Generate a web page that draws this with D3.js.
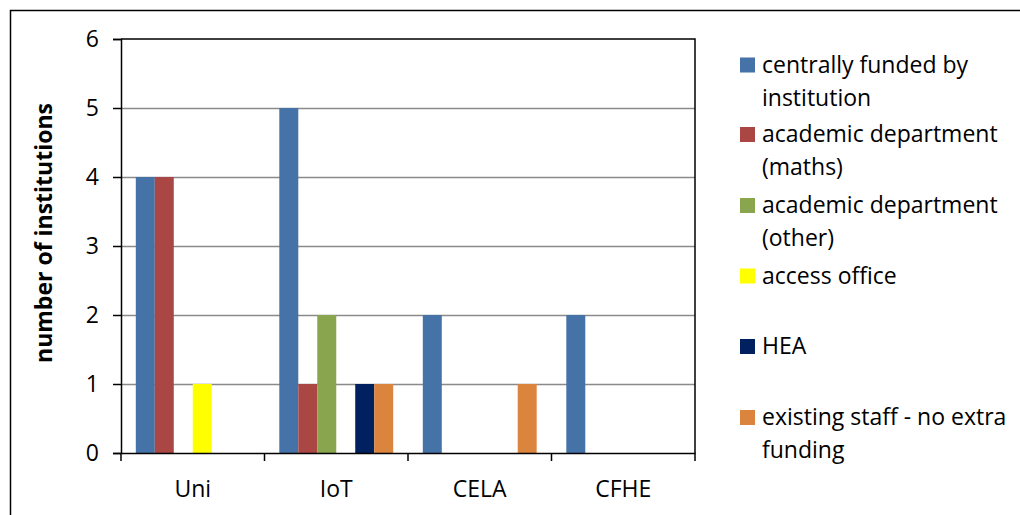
<!DOCTYPE html>
<html>
<head>
<meta charset="utf-8">
<script src="https://cdn.jsdelivr.net/npm/d3@7"></script>
<style>
  html, body { margin: 0; padding: 0; background: #fff; }
  svg { display: block; }
  text { font-family: "Open Sans", "Noto Sans", sans-serif; fill: #000; }
</style>
</head>
<body>
<svg id="chart" width="1020" height="515"></svg>
<script>
const categories = ["Uni", "IoT", "CELA", "CFHE"];
const seriesNames = [
  "centrally funded by institution",
  "academic department (maths)",
  "academic department (other)",
  "access office",
  "HEA",
  "existing staff - no extra funding"
];
const legendLines = [
  ["centrally funded by", "institution"],
  ["academic department", "(maths)"],
  ["academic department", "(other)"],
  ["access office"],
  ["HEA"],
  ["existing staff - no extra", "funding"]
];
const seriesColors = ["#4572A7", "#AA4643", "#89A54E", "#FFFF00", "#002060", "#DB843D"];
const centrallyFunded = [4, 5, 2, 2];
const academicMaths   = [4, 1, 0, 0];
const academicOther   = [0, 2, 0, 0];
const accessOffice    = [1, 0, 0, 0];
const hea             = [0, 1, 0, 0];
const existingStaff   = [0, 1, 1, 0];
const seriesValues = [centrallyFunded, academicMaths, academicOther, accessOffice, hea, existingStaff];
const yTicks = [0, 1, 2, 3, 4, 5, 6];
const yLabel = "number of institutions";

(function () {
const svg = d3.select("#chart");
const pLeft = 121, pRight = 695, pTop = 39, pBottom = 453;

// outer frame
svg.append("path")
  .attr("d", "M10.5,515 V10.5 H1020")
  .attr("fill", "none").attr("stroke", "#000").attr("stroke-width", 1.5);

const x = d3.scaleBand().domain(categories).range([pLeft, pRight]).padding(0);
const xs = d3.scaleBand().domain(d3.range(seriesNames.length))
  .range([0, x.bandwidth()]).paddingInner(0).paddingOuter(0.78);
const y = d3.scaleLinear().domain([0, 6]).range([pBottom, pTop]);

// gridlines
svg.append("g").selectAll("line").data(yTicks.filter(t => t > 0 && t < 6)).join("line")
  .attr("x1", pLeft).attr("x2", pRight)
  .attr("y1", d => Math.round(y(d)) + 0.5).attr("y2", d => Math.round(y(d)) + 0.5)
  .attr("stroke", "#8a8a8a").attr("stroke-width", 1.5);

// plot border top & right
svg.append("path")
  .attr("d", `M${pLeft},${y(6)} H${pRight} V${pBottom}`)
  .attr("fill", "none").attr("stroke", "#000").attr("stroke-width", 1.5);

// bars
const flat = [];
seriesValues.forEach((vals, si) => vals.forEach((v, ci) => {
  if (v > 0) flat.push({ si, ci, v });
}));
svg.append("g").selectAll("rect").data(flat).join("rect")
  .attr("x", d => x(categories[d.ci]) + xs(d.si))
  .attr("width", xs.bandwidth())
  .attr("y", d => y(d.v))
  .attr("height", d => y(0) - y(d.v))
  .attr("fill", d => seriesColors[d.si]);

// y axis
const yAxis = d3.axisLeft(y).tickValues(yTicks).tickSize(8).tickPadding(14).tickFormat(d3.format("d"));
const gy = svg.append("g").attr("transform", `translate(${pLeft},0)`).call(yAxis);
gy.select(".domain").attr("stroke", "#000").attr("stroke-width", 1.5);
gy.selectAll(".tick line").attr("stroke", "#000").attr("stroke-width", 1.5);
gy.selectAll(".tick text").style("font-size", "23px").style("font-family", "'Open Sans', sans-serif").attr("fill", "#000");

// x axis
const xAxis = d3.axisBottom(x).tickSize(0).tickPadding(28);
const gx = svg.append("g").attr("transform", `translate(0,${pBottom})`).call(xAxis);
gx.select(".domain").attr("stroke", "#000").attr("stroke-width", 1.5);
gx.selectAll(".tick text").style("font-size", "23px").style("font-family", "'Open Sans', sans-serif").attr("fill", "#000");
// category boundary ticks
const bounds = categories.map(c => x(c)).concat([pRight]);
svg.append("g").selectAll("line").data(bounds).join("line")
  .attr("x1", d => d).attr("x2", d => d)
  .attr("y1", pBottom).attr("y2", pBottom + 8)
  .attr("stroke", "#000").attr("stroke-width", 1.5);

// y label
svg.append("text")
  .attr("transform", `translate(52,233) rotate(-90)`)
  .attr("text-anchor", "middle")
  .style("font-size", "23px").style("font-weight", "bold")
  .text(yLabel);

// legend
const legendTops = [57.5, 127, 198, 268.5, 339, 410];
const lg = svg.append("g");
seriesNames.forEach((name, i) => {
  const ty = legendTops[i];
  lg.append("rect").attr("x", 740).attr("y", ty).attr("width", 15).attr("height", 15)
    .attr("fill", seriesColors[i]);
  legendLines[i].forEach((ln, j) => {
    lg.append("text").attr("x", 762).attr("y", ty + 15 + j * 33)
      .style("font-size", "23px").text(ln);
  });
});
})();
</script>
</body>
</html>
